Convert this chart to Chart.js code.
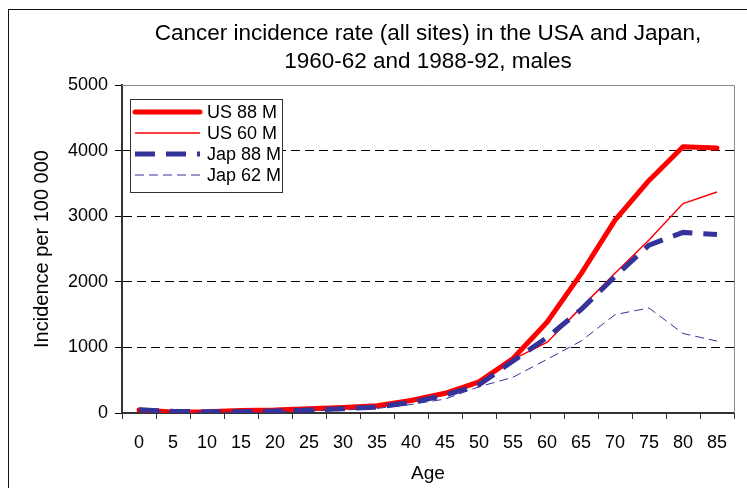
<!DOCTYPE html>
<html><head><meta charset="utf-8">
<script src="https://cdn.jsdelivr.net/npm/chart.js@4/dist/chart.umd.min.js"></script>
<style>html,body{margin:0;padding:0;background:#fff;overflow:hidden;}</style>
</head><body>
<canvas id="c" width="747" height="488"></canvas>
<script>
// ---- data ----
const ages = ['0','5','10','15','20','25','30','35','40','45','50','55','60','65','70','75','80','85'];
const us88 = [45, 15, 20, 40, 45, 65, 85, 110, 190, 300, 475, 830, 1383, 2120, 2940, 3545, 4060, 4040];
const us60 = [40, 15, 15, 30, 40, 55, 75, 100, 170, 280, 450, 818, 1076, 1606, 2131, 2636, 3192, 3368];
const jap88 = [50, 25, 20, 20, 30, 45, 65, 90, 160, 270, 430, 793, 1150, 1576, 2081, 2560, 2753, 2720];
const jap62 = [40, 15, 10, 10, 15, 30, 45, 70, 130, 212, 400, 545, 818, 1096, 1500, 1601, 1212, 1096];
const seriesLabels = ['US 88 M', 'US 60 M', 'Jap 88 M', 'Jap 62 M'];
const yTickValues = [0, 1000, 2000, 3000, 4000, 5000];
const titleLines = ['Cancer incidence rate (all sites) in the USA and Japan,', '1960-62 and 1988-92, males'];
const xTitle = 'Age';
const yTitle = 'Incidence per 100 000';

const FONT = "'Liberation Sans', Arial, sans-serif";
Chart.defaults.font.family = FONT;
Chart.defaults.color = '#000';

const frame = {
  id: 'frame',
  beforeDraw(chart) {
    const ctx = chart.ctx;
    ctx.save();
    ctx.fillStyle = '#fff';
    ctx.fillRect(0, 0, chart.width, chart.height);
    ctx.strokeStyle = '#111';
    ctx.lineWidth = 1;
    ctx.strokeRect(8.5, 9.5, 800, 600);
    ctx.restore();
  },
  beforeDatasetsDraw(chart) {
    const a = chart.chartArea, ctx = chart.ctx;
    ctx.save();
    ctx.strokeStyle = '#8a8a8a';
    ctx.lineWidth = 1;
    ctx.beginPath();
    ctx.moveTo(a.left, a.top + 0.5);
    ctx.lineTo(a.right + 0.5, a.top + 0.5);
    ctx.lineTo(a.right + 0.5, a.bottom);
    ctx.stroke();
    ctx.restore();
  }
};

const boxLegend = {
  id: 'boxLegend',
  afterDatasetsDraw(chart) {
    const ctx = chart.ctx;
    ctx.save();
    ctx.fillStyle = '#fff';
    ctx.strokeStyle = '#333';
    ctx.lineWidth = 1;
    ctx.fillRect(130.5, 99.5, 152, 93);
    ctx.strokeRect(130.5, 99.5, 152, 93);
    ctx.font = '18px ' + FONT;
    ctx.textBaseline = 'middle';
    ctx.textAlign = 'left';
    chart.data.datasets.forEach((ds, i) => {
      const y = 112 + i * 21;
      ctx.save();
      ctx.strokeStyle = ds.borderColor;
      ctx.lineWidth = ds.borderWidth;
      ctx.setLineDash(ds.borderDash || []);
      ctx.lineCap = ds.borderCapStyle || 'butt';
      ctx.beginPath();
      ctx.moveTo(135, y);
      ctx.lineTo(200, y);
      ctx.stroke();
      ctx.restore();
      ctx.fillStyle = '#000';
      ctx.fillText(ds.label, 207, y + 1);
    });
    ctx.restore();
  }
};

new Chart(document.getElementById('c'), {
  type: 'line',
  data: {
    labels: ages,
    datasets: [
      { label: seriesLabels[0], data: us88, borderColor: '#ff0000', borderWidth: 5, borderCapStyle: 'round', borderJoinStyle: 'round', order: 4 },
      { label: seriesLabels[1], data: us60, borderColor: '#ff0000', borderWidth: 1.5, order: 3 },
      { label: seriesLabels[2], data: jap88, borderColor: '#333399', borderWidth: 5, borderDash: [20, 11], order: 2 },
      { label: seriesLabels[3], data: jap62, borderColor: '#333399', borderWidth: 1, borderDash: [9, 5], order: 1 }
    ]
  },
  options: {
    responsive: false,
    animation: false,
    devicePixelRatio: 1,
    elements: { point: { radius: 0, hoverRadius: 0 }, line: { tension: 0, fill: false } },
    layout: { padding: { top: 0, left: 0, right: 13, bottom: 0 } },
    plugins: {
      legend: { display: false },
      tooltip: { enabled: false },
      title: {
        display: true, text: titleLines, fullSize: false, color: '#000',
        font: { size: 22.5, weight: 'normal', lineHeight: '28px' },
        padding: { top: 19.5, bottom: 9.5 }
      }
    },
    scales: {
      x: {
        type: 'category', offset: true,
        grid: { display: true, drawOnChartArea: false, drawTicks: true, tickLength: 6, offset: true, color: '#333', tickColor: '#333', tickWidth: 1 },
        border: { display: true, color: '#333', width: 2 },
        ticks: { color: '#000', font: { size: 18 }, padding: 13, maxRotation: 0, autoSkip: false },
        title: { display: true, text: xTitle, color: '#000', font: { size: 19 }, padding: { top: 0, bottom: 3 } },
        afterFit(s) { s.height = 75; }
      },
      y: {
        min: 0, max: 5000,
        afterBuildTicks(s) { s.ticks = yTickValues.map(v => ({ value: v })); },
        ticks: { color: '#000', font: { size: 18 }, padding: 7, callback: v => String(v) },
        grid: {
          color: c => (c.tick && (c.tick.value === 0 || c.tick.value === 5000)) ? 'rgba(0,0,0,0)' : '#000',
          tickColor: '#000', tickLength: 7, lineWidth: 1, drawTicks: true
        },
        border: { display: true, color: '#333', width: 2, dash: [9, 5] },
        title: { display: true, text: yTitle, color: '#000', font: { size: 20 }, padding: { top: 30, bottom: 0 } },
        afterFit(s) { s.width = 122; }
      }
    }
  },
  plugins: [frame, boxLegend]
});
</script>
</body></html>
